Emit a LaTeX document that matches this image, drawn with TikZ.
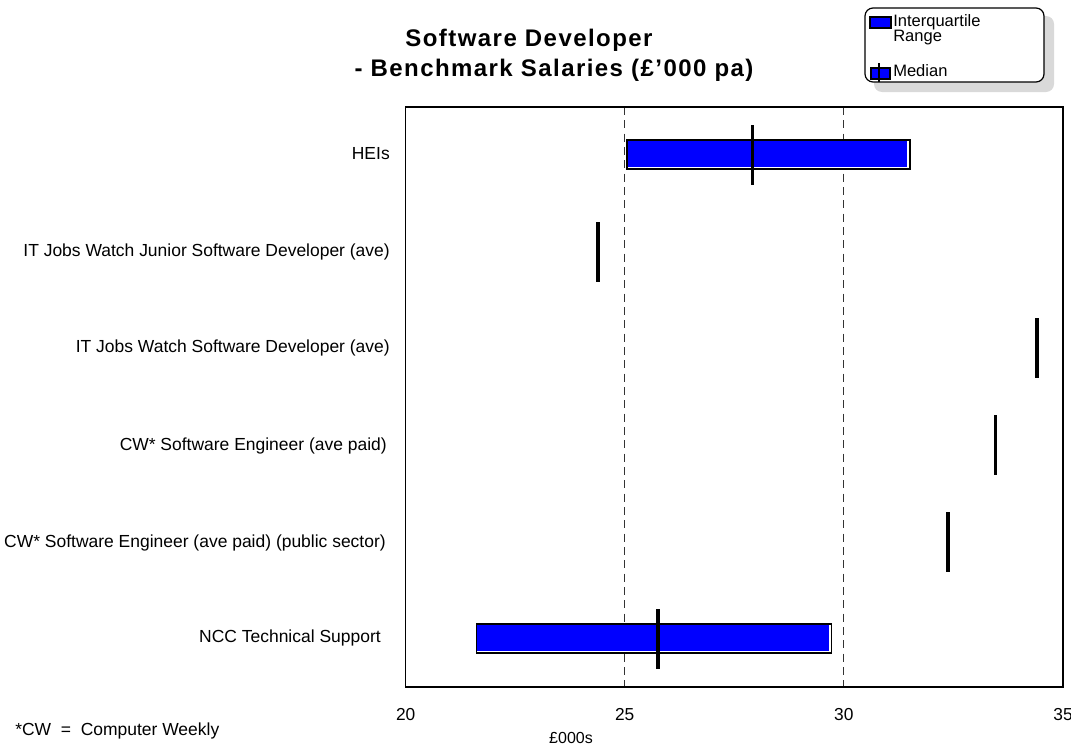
\documentclass[tikz,border=0pt]{standalone}
\usepackage{fontspec}
\setmainfont{Liberation Sans}
\begin{document}
\begin{tikzpicture}[x=0.75pt,y=-0.75pt,
  lbl/.style={anchor=east, font=\fontsize{13.1}{15}\selectfont, inner sep=0pt},
  tick/.style={anchor=center, font=\fontsize{13}{15}\selectfont, inner sep=0pt},
  leg/.style={anchor=west, font=\fontsize{12.4}{14}\selectfont, inner sep=0pt},
  ttl/.style={anchor=center, font=\fontsize{18}{22}\bfseries\addfontfeatures{LetterSpace=6}, inner sep=0pt},
  gridline/.style={black!80, line width=0.6pt, dash pattern=on 6pt off 4pt},
  barframe/.style={draw=black, fill=white, line width=1.1pt},
  barfill/.style={fill=blue},
  median/.style={black, line width=2.5pt},
  frame/.style={draw=black, line width=1pt}]
\useasboundingbox (0,0) rectangle (1071,746);
% title
\node[ttl] (t1) at (529,40) {Software Developer};
\node[ttl] (t2) at (554,70) {- Benchmark Salaries (£'000 pa)};
% legend
\fill[black!15, rounded corners=6pt] (874,16) rectangle (1054,92);
\draw[fill=white, rounded corners=6pt, line width=0.9pt] (865,8) rectangle (1044,82);
\filldraw[fill=blue, draw=black, line width=0.8pt] (870,17) rectangle (891,28);
\node[leg] (l1) at (893,22) {Interquartile};
\node[leg] (l2) at (893,38) {Range};
\filldraw[fill=blue, draw=black, line width=0.8pt] (871,68) rectangle (890,79);
\draw[median, line width=1.8pt] (879,63) -- (879,82);
\node[leg] (l3) at (893,71) {Median};
% grid lines
\draw[gridline] (624.7,107) -- (624.7,687);
\draw[gridline] (843.8,107) -- (843.8,687);
% frame
\draw[frame] (405.7,107) rectangle (1063,687);
% HEIs bar
\filldraw[barframe] (627,140) rectangle (910,169);
\fill[barfill] (627.6,140.6) rectangle (907,166.5);
\draw[median] (752.7,125) -- (752.7,185);
% junior
\draw[median] (598,222) -- (598,282);
% IT SD
\draw[median] (1037,318) -- (1037,378);
% CW SE
\draw[median] (995.5,415) -- (995.5,475);
% CW public
\draw[median] (948,512) -- (948,572);
% NCC bar
\filldraw[barframe] (476.7,624) rectangle (831.7,653);
\fill[barfill] (477.3,624.6) rectangle (829,650.7);
\draw[median] (658,609) -- (658,669);
% row labels
\node[lbl] (r1) at (390,154) {HEIs};
\node[lbl] (r2) at (390,252) {IT Jobs Watch Junior Software Developer (ave)};
\node[lbl] (r3) at (390,348) {IT Jobs Watch Software Developer (ave)};
\node[lbl] (r4) at (387,446) {CW* Software Engineer (ave paid)};
\node[lbl] (r5) at (386,543) {CW* Software Engineer (ave paid) (public sector)};
\node[lbl] (r6) at (381,638) {NCC Technical Support};
% ticks
\node[tick] (x20) at (405.7,715) {20};
\node[tick] (x25) at (624.7,715) {25};
\node[tick] (x30) at (843.8,715) {30};
\node[tick] (x35) at (1063,715) {35};
\node[tick, font=\fontsize{12}{14}\selectfont] (xl) at (571,738) {£000s};
\node[anchor=west, inner sep=0pt, font=\fontsize{13.1}{15}\selectfont] (fn) at (15,731) {*CW\ \ =\ \ Computer Weekly};
\end{tikzpicture}
\end{document}
